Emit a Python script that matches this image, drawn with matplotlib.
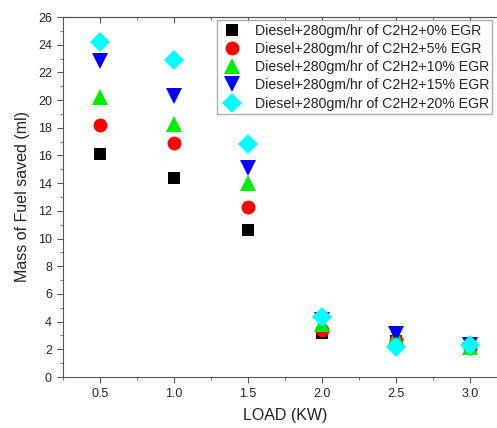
import matplotlib.pyplot as plt
from matplotlib.ticker import MultipleLocator

plt.rcParams['font.family'] = ['Liberation Sans', 'DejaVu Sans']

# Data
load = [0.5, 1.0, 1.5, 2.0, 2.5, 3.0]
egr0 = [16.1, 14.4, 10.6, 3.2, 2.6, 2.0]
egr5 = [18.2, 16.9, 12.3, 3.4, 2.7, 2.1]
egr10 = [20.2, 18.3, 14.0, 3.8, 2.9, 2.2]
egr15 = [22.8, 20.3, 15.1, 4.1, 3.1, 2.3]
egr20 = [24.2, 22.9, 16.8, 4.3, 2.2, 2.3]
labels = ['Diesel+280gm/hr of C2H2+0% EGR',
          'Diesel+280gm/hr of C2H2+5% EGR',
          'Diesel+280gm/hr of C2H2+10% EGR',
          'Diesel+280gm/hr of C2H2+15% EGR',
          'Diesel+280gm/hr of C2H2+20% EGR']

series = [egr0, egr5, egr10, egr15, egr20]
markers = ['s', 'o', '^', 'v', 'D']
colors = ['black', 'red', '#00ee00', 'blue', 'cyan']
sizes = [9, 10, 12, 12, 10]

fig = plt.figure(figsize=(4.97, 4.28), dpi=100)
ax = fig.add_axes([63/497, 51/428, 444/497, 360/428])

for y, m, c, s, lab in zip(series, markers, colors, sizes, labels):
    ax.plot(load, y, linestyle='none', marker=m, color=c, markersize=s,
            markeredgewidth=0, label=lab)

ax.set_xlim(0.25, 3.25)
ax.set_ylim(0, 26)
ax.xaxis.set_major_locator(MultipleLocator(0.5))
ax.xaxis.set_minor_locator(MultipleLocator(0.25))
ax.yaxis.set_major_locator(MultipleLocator(2))
ax.yaxis.set_minor_locator(MultipleLocator(1))
ax.tick_params(which='both', direction='out', top=False, right=False,
               labelsize=9, color='#555555', labelcolor='#222222')
ax.tick_params(which='major', length=4.5)
ax.tick_params(which='minor', length=2.5)

# inward mirror ticks on top
sec = ax.secondary_xaxis('top')
sec.xaxis.set_major_locator(MultipleLocator(0.5))
sec.xaxis.set_minor_locator(MultipleLocator(0.25))
sec.tick_params(which='both', direction='in', labeltop=False, color='#555555')
sec.tick_params(which='major', length=4.5)
sec.tick_params(which='minor', length=2.5)
sec.spines['top'].set_color('#555555')

for sp in ax.spines.values():
    sp.set_color('#555555')
ax.spines['right'].set_visible(False)

ax.set_xlabel('LOAD (KW)', fontsize=11.5, color='#222222', labelpad=6)
ax.set_ylabel('Mass of Fuel saved (ml)', fontsize=11.5, color='#222222', labelpad=6)

ax.legend(loc='upper left', bbox_to_anchor=((217-63)/444, (377-20)/360),
          borderaxespad=0, fontsize=10.2, frameon=True, fancybox=False,
          edgecolor='#999999', handletextpad=0.8, labelspacing=0.3,
          borderpad=0.25, handlelength=1.6, markerscale=1.0,
          labelcolor='#222222')

plt.savefig('out.png', dpi=100)
